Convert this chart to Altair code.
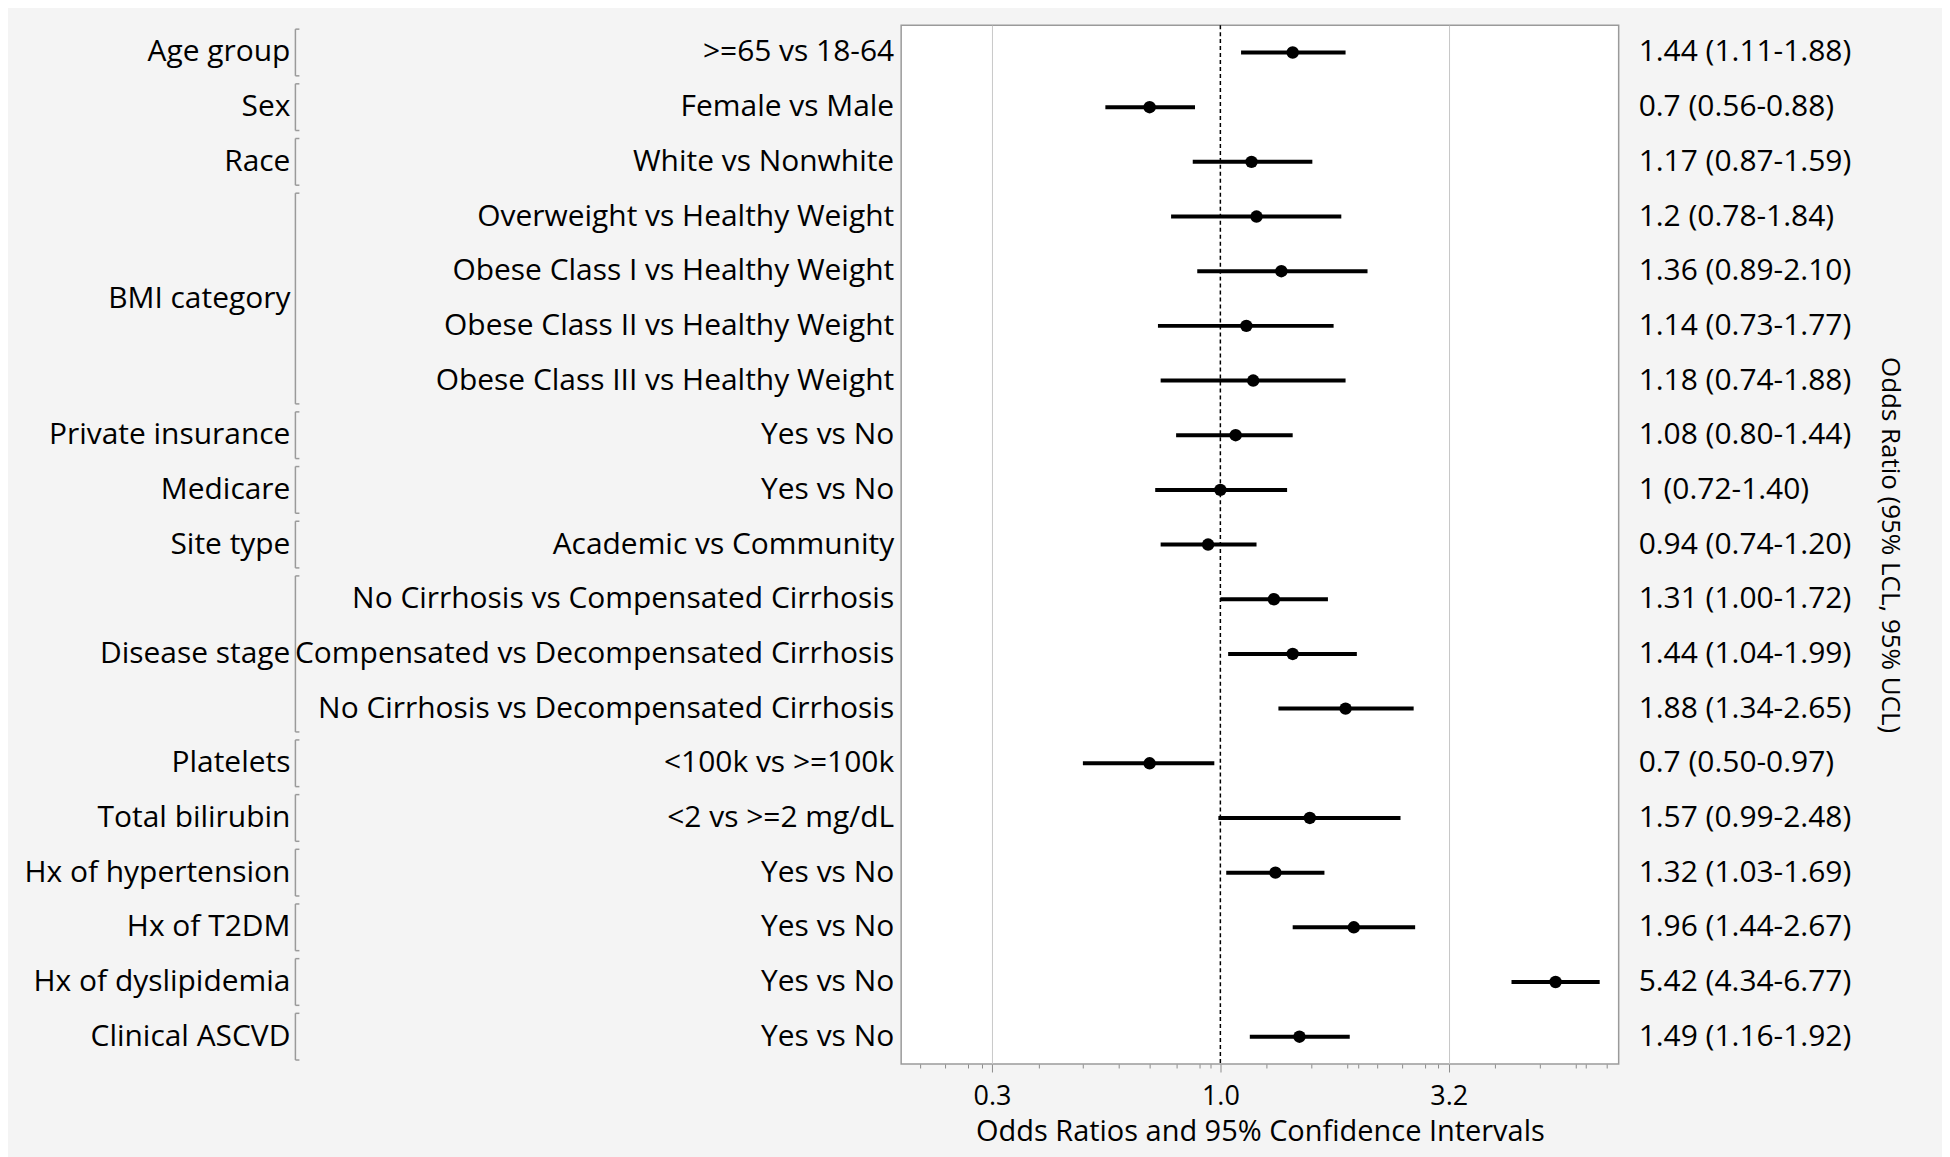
import altair as alt
import pandas as pd

# ---------------- data ----------------
groups = ["Age group", "Sex", "Race", "BMI category", "BMI category", "BMI category",
          "BMI category", "Private insurance", "Medicare", "Site type", "Disease stage",
          "Disease stage", "Disease stage", "Platelets", "Total bilirubin",
          "Hx of hypertension", "Hx of T2DM", "Hx of dyslipidemia", "Clinical ASCVD"]
comparisons = [">=65 vs 18-64", "Female vs Male", "White vs Nonwhite",
               "Overweight vs Healthy Weight", "Obese Class I vs Healthy Weight",
               "Obese Class II vs Healthy Weight", "Obese Class III vs Healthy Weight",
               "Yes vs No", "Yes vs No", "Academic vs Community",
               "No Cirrhosis vs Compensated Cirrhosis",
               "Compensated vs Decompensated Cirrhosis",
               "No Cirrhosis vs Decompensated Cirrhosis", "<100k vs >=100k",
               "<2 vs >=2 mg/dL", "Yes vs No", "Yes vs No", "Yes vs No", "Yes vs No"]
odds_ratio = [1.44, 0.70, 1.17, 1.20, 1.36, 1.14, 1.18, 1.08, 1.00, 0.94, 1.31, 1.44,
              1.88, 0.70, 1.57, 1.32, 1.96, 5.42, 1.49]
lcl = [1.11, 0.56, 0.87, 0.78, 0.89, 0.73, 0.74, 0.80, 0.72, 0.74, 1.00, 1.04, 1.34,
       0.50, 0.99, 1.03, 1.44, 4.34, 1.16]
ucl = [1.88, 0.88, 1.59, 1.84, 2.10, 1.77, 1.88, 1.44, 1.40, 1.20, 1.72, 1.99, 2.65,
       0.97, 2.48, 1.69, 2.67, 6.77, 1.92]
or_labels = ["1.44 (1.11-1.88)", "0.7 (0.56-0.88)", "1.17 (0.87-1.59)", "1.2 (0.78-1.84)",
             "1.36 (0.89-2.10)", "1.14 (0.73-1.77)", "1.18 (0.74-1.88)", "1.08 (0.80-1.44)",
             "1 (0.72-1.40)", "0.94 (0.74-1.20)", "1.31 (1.00-1.72)", "1.44 (1.04-1.99)",
             "1.88 (1.34-2.65)", "0.7 (0.50-0.97)", "1.57 (0.99-2.48)", "1.32 (1.03-1.69)",
             "1.96 (1.44-2.67)", "5.42 (4.34-6.77)", "1.49 (1.16-1.92)"]

major_ticks = [0.3162, 1.0, 3.162]          # labelled 0.3, 1.0, 3.2
grid_ticks = [0.3162, 3.162]
minor_ticks = [0.22, 0.25, 0.28, 0.3, 0.4, 0.5, 0.6, 0.7, 0.8, 0.9, 0.95,
               1.26, 1.58, 1.9, 2.0, 2.2, 2.5, 2.8, 3.0, 4.0, 5.0, 6.0, 6.3, 7.0]
reference_or = [1.0]
x_domain = [0.2, 7.45]

x_title = "Odds Ratios and 95% Confidence Intervals"
y_title = "Odds Ratio (95% LCL, 95% UCL)"

df = pd.DataFrame({
    "row": list(range(len(groups))),
    "group": groups,
    "comparison": comparisons,
    "or": odds_ratio,
    "lcl": lcl,
    "ucl": ucl,
    "or_label": or_labels,
})
ref_df = pd.DataFrame({"ref": reference_or})

# ---------------- layout / style ----------------
W, H = 719, 1041
FONT = "Open Sans"
FS = 30
TXT = "#000000"
n_rows = len(groups)

xscale = alt.Scale(type="log", domain=x_domain, nice=False)
major_test = f"indexof({major_ticks}, datum.value) >= 0"
grid_test = f"indexof({grid_ticks}, datum.value) >= 0"
xaxis = alt.Axis(
    title=x_title,
    values=sorted(major_ticks + minor_ticks),
    labelExpr=f"{major_test} ? format(datum.value, '.1f') : ''",
    labelOverlap=False, labelFlush=False,
    labelFont=FONT, labelFontSize=27, labelColor=TXT, labelPadding=12,
    titleFont=FONT, titleFontSize=29, titleFontWeight="normal", titleColor=TXT,
    titlePadding=8,
    domain=False,
    tickColor="#8c8c8c", tickWidth=1,
    tickSize={"condition": {"test": major_test, "value": 8}, "value": 4},
    grid=True, gridColor="#c8c8c8", gridWidth=1,
    gridOpacity={"condition": {"test": grid_test, "value": 1}, "value": 0},
)

yscale = alt.Scale(domain=[-0.5, n_rows - 0.5], reverse=True, nice=False, zero=False)
yaxis = alt.Axis(
    title=y_title, orient="right", labels=False, ticks=False, domain=False, grid=False,
    titleFont=FONT, titleFontSize=26, titleFontWeight="normal", titleColor=TXT,
    titleAngle=90, titleX=271, titleY=H / 2, titleAlign="center", titleBaseline="middle",
)


def Y(field):
    return alt.Y(field, type="quantitative", scale=yscale, axis=yaxis)


def X(field):
    return alt.X(field, type="quantitative", scale=xscale, axis=xaxis)


base = alt.Chart(df)

ref_line = alt.Chart(ref_df).mark_rule(color="black", strokeDash=[4, 3], strokeWidth=1.5).encode(
    x=X("ref")
)

ci = base.mark_rule(color="black", strokeWidth=4).encode(
    x=X("lcl"), x2="ucl", y=Y("row")
)

pts = base.mark_circle(color="black", size=155, opacity=1).encode(
    x=X("or"), y=Y("row")
)

sub_labels = base.mark_text(align="right", baseline="middle", font=FONT, fontSize=FS,
                            color=TXT).encode(
    x=alt.value(-7), y=Y("row"), text="comparison"
)

or_text = base.mark_text(align="left", baseline="middle", font=FONT, fontSize=FS,
                         color=TXT).encode(
    x=alt.value(739), y=Y("row"), text="or_label"
)

grp = base.transform_aggregate(
    lo="min(row)", hi="max(row)", groupby=["group"]
).transform_calculate(
    center="(datum.lo + datum.hi) / 2",
    top="datum.lo - 0.5",
    bot="datum.hi + 0.5",
)

grp_labels = grp.mark_text(align="right", baseline="middle", font=FONT, fontSize=FS,
                           color=TXT).encode(
    x=alt.value(-612), y=Y("center"), text="group:N"
)

BR = "#9a9a9a"
br_v = grp.mark_rule(color=BR, strokeWidth=1.5, yOffset=4, y2Offset=-4).encode(
    x=alt.value(-607), y=Y("top"), y2="bot:Q"
)
br_top = grp.mark_rule(color=BR, strokeWidth=1.5, yOffset=4).encode(
    x=alt.value(-607), x2=alt.value(-603), y=Y("top")
)
br_bot = grp.mark_rule(color=BR, strokeWidth=1.5, yOffset=-4).encode(
    x=alt.value(-607), x2=alt.value(-603), y=Y("bot")
)

chart = alt.layer(
    ref_line, ci, pts, sub_labels, or_text, grp_labels, br_v, br_top, br_bot
).properties(
    width=W, height=H,
    autosize=alt.AutoSizeParams(type="none"),
    padding={"left": 895, "top": 16, "right": 324, "bottom": 92},
    background="#f4f4f4",
).configure_view(
    fill="white", stroke="#9a9a9a", strokeWidth=1.5
)

chart.save("out.html", embed_options={"renderer": "svg", "actions": False})
